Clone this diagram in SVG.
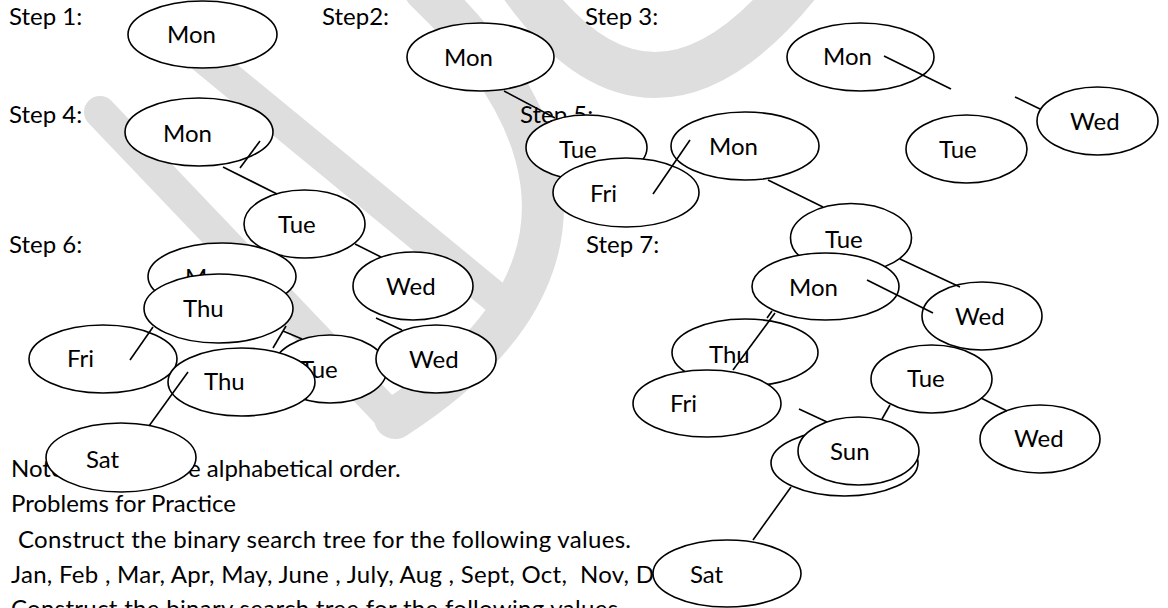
<svg xmlns="http://www.w3.org/2000/svg" width="1168" height="608" viewBox="0 0 1168 608">
  <style>
    .wm { fill: none; stroke: #dedede; stroke-linecap: round; }
    .node ellipse { fill: #ffffff; stroke: #000000; stroke-width: 1.6; }
    text { font-family: Lato, "Open Sans", "Liberation Sans", sans-serif; font-size: 24px; fill: #000000; }
    #connectors line { stroke: #000000; stroke-width: 1.6; }
  </style>

  <rect width="1168" height="608" fill="#ffffff"/>

  <!-- background watermark strokes -->
  <g id="watermark">
    <path class="wm" stroke-width="32" d="M100 112 L392 418"/>
    <path class="wm" stroke-width="32" d="M170 30 L495 297"/>
    <path class="wm" stroke-width="42" d="M425 -10 C530 90 640 260 395 418"/>
    <path class="wm" stroke-width="46" d="M515 -25 Q650 175 805 -25"/>
  </g>

  <!-- step captions and notes -->
  <g id="labels">
    <text x="9" y="25">Step 1:</text>
    <text x="322" y="25">Step2:</text>
    <text x="585" y="25">Step 3:</text>
    <text x="9" y="123">Step 4:</text>
    <text x="520" y="123">Step 5:</text>
    <text x="9" y="253">Step 6:</text>
    <text x="586" y="253">Step 7:</text>
    <text x="11" y="477">Note</text>
    <text x="188" y="477">e alphabetical order.</text>
    <text x="11" y="512">Problems for Practice</text>
    <text x="18" y="548" textLength="613" lengthAdjust="spacing">Construct the binary search tree for the following values.</text>
    <text x="11" y="583" xml:space="preserve" textLength="643" lengthAdjust="spacing">Jan, Feb , Mar, Apr, May, June , July, Aug , Sept, Oct,  Nov, D</text>
    <text x="11" y="617" textLength="613" lengthAdjust="spacing">Construct the binary search tree for the following values.</text>
  </g>

  <!-- step 1 -->
  <g id="s1-mon" class="node"><ellipse cx="202.5" cy="34.5" rx="74.5" ry="33.5"/><text x="167" y="43">Mon</text></g>

  <!-- step 2 / step 5 -->
  <g id="s2-mon" class="node"><ellipse cx="480.5" cy="57" rx="73.5" ry="34"/><text x="444" y="66">Mon</text></g>
  <g id="s5-tue" class="node"><ellipse cx="586.5" cy="147.5" rx="60.5" ry="32.5"/><text x="559" y="158">Tue</text></g>
  <g id="s5-mon" class="node"><ellipse cx="745" cy="146" rx="74" ry="34"/><text x="709" y="155">Mon</text></g>
  <g id="s5-fri" class="node"><ellipse cx="626" cy="192.5" rx="73" ry="34.5"/><text x="590" y="202">Fri</text></g>

  <!-- step 3 -->
  <g id="s3-mon" class="node"><ellipse cx="860.5" cy="57" rx="73.5" ry="34"/><text x="823" y="65">Mon</text></g>
  <g id="s3-tue" class="node"><ellipse cx="966.5" cy="149" rx="60.5" ry="34"/><text x="939" y="158">Tue</text></g>
  <g id="s3-wed" class="node"><ellipse cx="1097.5" cy="121" rx="60.5" ry="34"/><text x="1070" y="130">Wed</text></g>

  <!-- step 4 -->
  <g id="s4-mon" class="node"><ellipse cx="199" cy="132" rx="74" ry="34"/><text x="163" y="142">Mon</text></g>
  <g id="s4-tue" class="node"><ellipse cx="304.5" cy="224" rx="60.5" ry="34"/><text x="278" y="233">Tue</text></g>
  <g id="s4-wed" class="node"><ellipse cx="413" cy="286" rx="60" ry="34"/><text x="386" y="295">Wed</text></g>

  <!-- step 6 -->
  <g id="s6-mon" class="node"><ellipse cx="222" cy="276.5" rx="74" ry="33.5"/><text x="185" y="286">Mon</text></g>
  <g id="s6-fri" class="node"><ellipse cx="103" cy="359" rx="74" ry="34"/><text x="67" y="367">Fri</text></g>
  <g id="s6-thu-a" class="node"><ellipse cx="218.5" cy="308.5" rx="74.5" ry="34.5"/><text x="183" y="317">Thu</text></g>
  <g id="s6-tue" class="node"><ellipse cx="330" cy="369" rx="57" ry="34"/><text x="300" y="378">Tue</text></g>
  <g id="s6-thu-b" class="node"><ellipse cx="241.5" cy="382" rx="73.5" ry="34"/><text x="204" y="390">Thu</text></g>
  <g id="s6-wed" class="node"><ellipse cx="436" cy="359" rx="60" ry="34"/><text x="409" y="368">Wed</text></g>
  <g id="s6-sat" class="node"><ellipse cx="121" cy="457.5" rx="75" ry="34.5"/><text x="86" y="468">Sat</text></g>

  <!-- step 7 -->
  <g id="s7-tue" class="node"><ellipse cx="851" cy="238" rx="60.5" ry="34.5"/><text x="825" y="248">Tue</text></g>
  <g id="s7-mon" class="node"><ellipse cx="825.5" cy="286.5" rx="73.5" ry="33.5"/><text x="789" y="296">Mon</text></g>
  <g id="s7-wed-a" class="node"><ellipse cx="982" cy="316" rx="60" ry="34"/><text x="955" y="325">Wed</text></g>
  <g id="s7-thu" class="node"><ellipse cx="745" cy="352.5" rx="73" ry="33.5"/><text x="709" y="363">Thu</text></g>
  <g id="s7-fri" class="node"><ellipse cx="707" cy="403.5" rx="74" ry="33.5"/><text x="670" y="412">Fri</text></g>
  <g id="s7-tue-b" class="node"><ellipse cx="931.5" cy="379" rx="60.5" ry="34"/><text x="907" y="387">Tue</text></g>
  <g id="s7-wed-b" class="node"><ellipse cx="1040" cy="439" rx="60" ry="34"/><text x="1014" y="447">Wed</text></g>
  <g id="s7-sun" class="node"><ellipse cx="844.5" cy="463" rx="73.5" ry="33"/><ellipse cx="858.5" cy="451" rx="60.5" ry="34"/><text x="830" y="460">Sun</text></g>
  <g id="s7-sat" class="node"><ellipse cx="727" cy="573.5" rx="74" ry="33.5"/><text x="690" y="583">Sat</text></g>

  <!-- tree edges -->
  <g id="connectors">
    <line x1="504" y1="91" x2="555" y2="118"/>
    <line x1="690" y1="140" x2="653" y2="194"/>
    <line x1="768" y1="180" x2="823" y2="207"/>
    <line x1="884" y1="56" x2="951" y2="89"/>
    <line x1="1015" y1="97" x2="1040" y2="109"/>
    <line x1="260" y1="141" x2="240" y2="168"/>
    <line x1="223" y1="167" x2="277" y2="194"/>
    <line x1="355" y1="244" x2="381" y2="257"/>
    <line x1="153" y1="327" x2="130" y2="360"/>
    <line x1="286" y1="326" x2="273" y2="348"/>
    <line x1="283" y1="331" x2="302" y2="339"/>
    <line x1="188" y1="372" x2="149" y2="426"/>
    <line x1="376" y1="318" x2="402" y2="330"/>
    <line x1="900" y1="259" x2="960" y2="287"/>
    <line x1="867" y1="280" x2="933" y2="313"/>
    <line x1="775" y1="313" x2="733" y2="370"/>
    <line x1="772" y1="311" x2="767" y2="318"/>
    <line x1="981" y1="398" x2="1007" y2="411"/>
    <line x1="890" y1="405" x2="882" y2="419"/>
    <line x1="799" y1="409" x2="827" y2="422"/>
    <line x1="791" y1="487" x2="753" y2="540"/>
  </g>
</svg>
